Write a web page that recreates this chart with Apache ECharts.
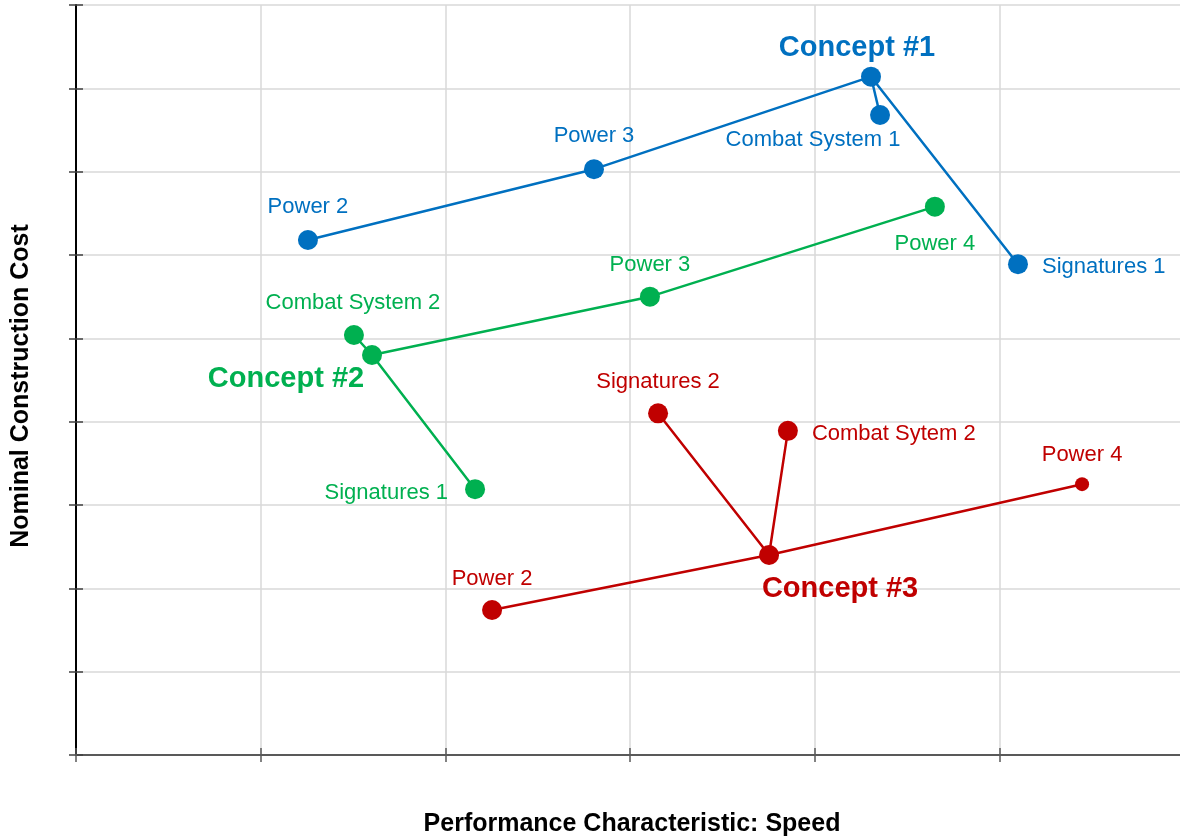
<!DOCTYPE html>
<html>
<head>
<meta charset="utf-8">
<script src="https://cdn.jsdelivr.net/npm/echarts@6/dist/echarts.min.js"></script>
<style>
  html, body { margin: 0; padding: 0; background: #ffffff; overflow: hidden; }
  #chart { width: 1184px; height: 838px; }
</style>
</head>
<body>
<div id="chart"></div>
<script>
// ---------------- DATA ----------------
const xTitle = 'Performance Characteristic: Speed';
const yTitle = 'Nominal Construction Cost';
const xMin = 0, xMax = 6, xInterval = 1;
const yMin = 0, yMax = 9, yInterval = 1;

// Concept #1 (blue)
const c1Names = ['Power 2', 'Power 3', 'Concept #1', 'Combat System 1', 'Signatures 1'];
const c1X = [1.256, 2.805, 4.305, 4.354, 5.101];
const c1Y = [6.18, 7.03, 8.14, 7.68, 5.89];
const c1Paths = [[0, 1, 2, 4], [2, 3]];

// Concept #2 (green)
const c2Names = ['Combat System 2', 'Concept #2', 'Power 3', 'Power 4', 'Signatures 1'];
const c2X = [1.505, 1.603, 3.108, 4.651, 2.161];
const c2Y = [5.04, 4.80, 5.50, 6.58, 3.19];
const c2Paths = [[0, 1, 4], [1, 2, 3]];

// Concept #3 (red)
const c3Names = ['Signatures 2', 'Combat Sytem 2', 'Concept #3', 'Power 2', 'Power 4'];
const c3X = [3.152, 3.855, 3.753, 2.253, 5.448];
const c3Y = [4.10, 3.89, 2.40, 1.74, 3.25];
const c3Paths = [[0, 2, 1], [3, 2, 4]];

// ---------------- STYLES ----------------
const FONT = '"Liberation Sans", Arial, sans-serif';
const concepts = [
  {
    names: c1Names, xs: c1X, ys: c1Y, paths: c1Paths, color: '#0070C0',
    labels: [
      { align: 'center', offset: [0, -33] },
      { align: 'center', offset: [0, -33] },
      { align: 'center', offset: [-14, -29], bold: true },
      { align: 'center', offset: [-67, 25] },
      { align: 'left', offset: [24, 3] }
    ],
    sizes: [20, 20, 20, 20, 20]
  },
  {
    names: c2Names, xs: c2X, ys: c2Y, paths: c2Paths, color: '#00B050',
    labels: [
      { align: 'center', offset: [-1, -32] },
      { align: 'center', offset: [-86, 24], bold: true },
      { align: 'center', offset: [0, -32] },
      { align: 'center', offset: [0, 37] },
      { align: 'right', offset: [-27, 4] }
    ],
    sizes: [20, 20, 20, 20, 20]
  },
  {
    names: c3Names, xs: c3X, ys: c3Y, paths: c3Paths, color: '#C00000',
    labels: [
      { align: 'center', offset: [0, -31] },
      { align: 'left', offset: [24, 3] },
      { align: 'center', offset: [71, 34], bold: true },
      { align: 'center', offset: [0, -31] },
      { align: 'center', offset: [0, -29] }
    ],
    sizes: [20, 20, 20, 20, 14]
  }
];

const series = [];
concepts.forEach(function (c) {
  c.paths.forEach(function (p) {
    series.push({
      type: 'line',
      silent: true,
      symbol: 'none',
      z: 2,
      lineStyle: { color: c.color, width: 2.5 },
      data: p.map(function (i) { return [c.xs[i], c.ys[i]]; })
    });
  });
  series.push({
    type: 'scatter',
    z: 3,
    itemStyle: { color: c.color, opacity: 1 },
    data: c.names.map(function (n, i) {
      const L = c.labels[i];
      return {
        name: n,
        value: [c.xs[i], c.ys[i]],
        symbolSize: c.sizes[i],
        label: {
          show: true,
          formatter: n,
          position: 'inside',
          align: L.align,
          verticalAlign: 'middle',
          offset: L.offset,
          color: c.color,
          fontFamily: FONT,
          fontSize: L.bold ? 29 : 22,
          fontWeight: L.bold ? 'bold' : 'normal'
        }
      };
    })
  });
});

const chart = echarts.init(document.getElementById('chart'), null, { renderer: 'canvas' });
chart.setOption({
  animation: false,
  backgroundColor: '#ffffff',
  grid: { left: 76, top: 5, bottom: 83, right: 0, containLabel: false },
  xAxis: [
    {
      type: 'value', min: xMin, max: xMax, interval: xInterval,
      axisLine: { show: true, onZero: false, lineStyle: { color: '#595959', width: 2 } },
      axisTick: { show: true, inside: false, length: 7, lineStyle: { color: '#595959', width: 1.5 } },
      axisLabel: { show: false },
      splitLine: { show: true, lineStyle: { color: '#d9d9d9', width: 1.5 } }
    },
    {
      type: 'value', min: xMin, max: xMax, interval: xInterval, position: 'bottom',
      axisLine: { show: false },
      axisTick: { show: true, inside: true, length: 7, lineStyle: { color: '#595959', width: 1.5 } },
      axisLabel: { show: false },
      splitLine: { show: false }
    }
  ],
  yAxis: [
    {
      type: 'value', min: yMin, max: yMax, interval: yInterval,
      axisLine: { show: true, onZero: false, lineStyle: { color: '#000000', width: 2 } },
      axisTick: { show: true, inside: false, length: 7, lineStyle: { color: '#404040', width: 1.5 } },
      axisLabel: { show: false },
      splitLine: { show: true, lineStyle: { color: '#d9d9d9', width: 1.5 } }
    },
    {
      type: 'value', min: yMin, max: yMax, interval: yInterval, position: 'left',
      axisLine: { show: false },
      axisTick: { show: true, inside: true, length: 7, lineStyle: { color: '#404040', width: 1.5 } },
      axisLabel: { show: false },
      splitLine: { show: false }
    }
  ],
  graphic: [
    {
      type: 'text', x: 632, y: 824,
      style: { text: xTitle, textAlign: 'center', textVerticalAlign: 'middle',
        font: 'bold 25px "Liberation Sans", Arial, sans-serif', fill: '#000000' }
    },
    {
      type: 'text', x: 21, y: 386, rotation: Math.PI / 2,
      style: { text: yTitle, textAlign: 'center', textVerticalAlign: 'middle',
        font: 'bold 25px "Liberation Sans", Arial, sans-serif', fill: '#000000' }
    }
  ],
  series: series
});
</script>
</body>
</html>
